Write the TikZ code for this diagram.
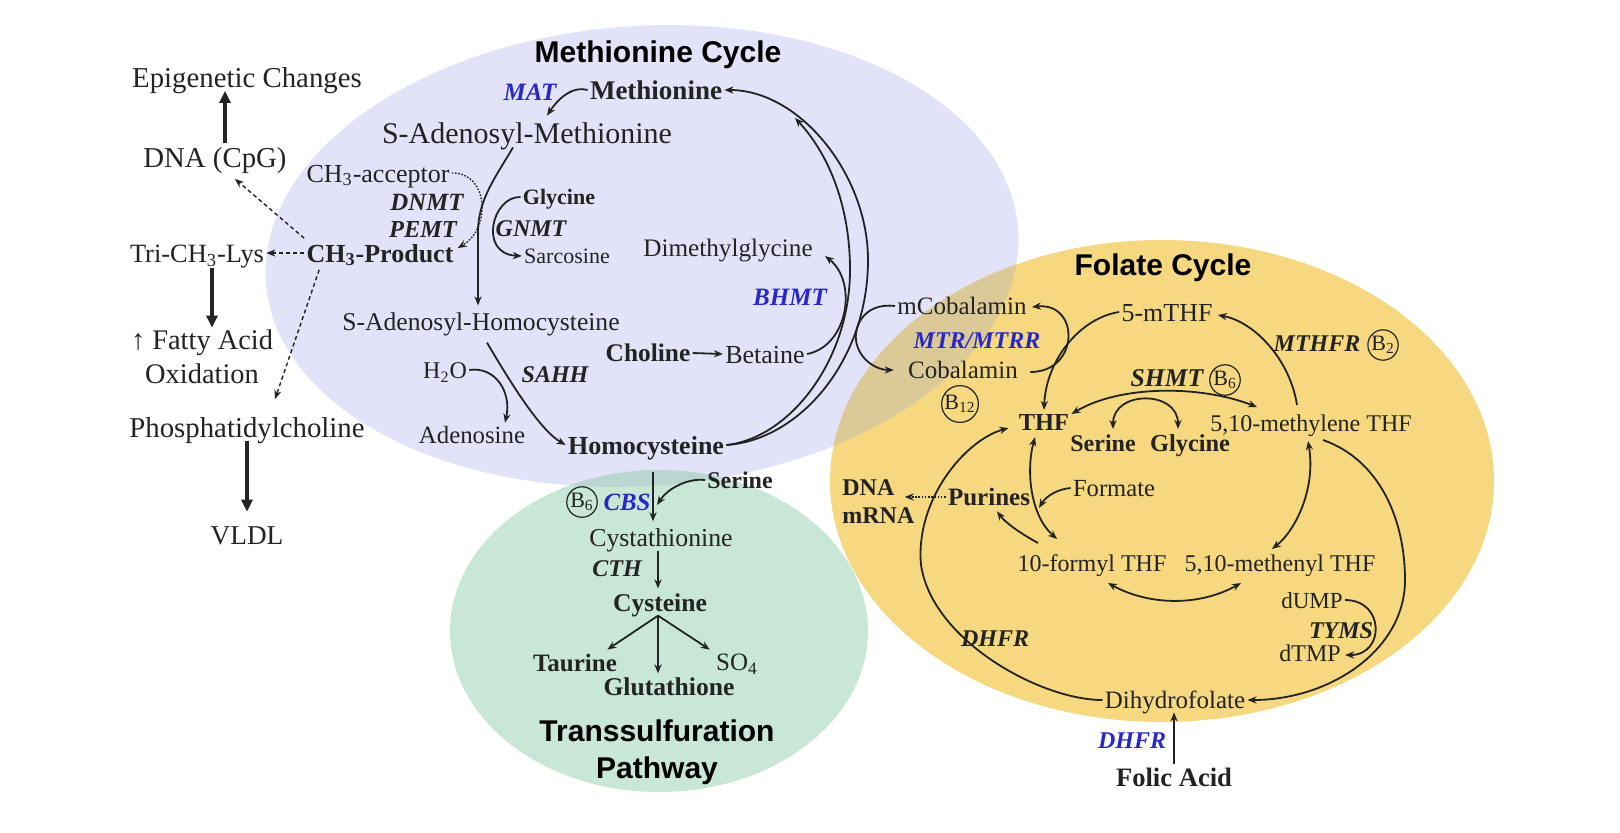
\documentclass[tikz,border=0pt]{standalone}
\usepackage{fontspec}
\setmainfont{Liberation Serif}
\newfontfamily\sansbold{Liberation Sans}
\usetikzlibrary{arrows.meta,calc}
\definecolor{purpbg}{RGB}{226,226,248}
\definecolor{yelbg}{RGB}{246,216,128}
\definecolor{grnbg}{RGB}{200,231,214}
\definecolor{ovYP}{RGB}{219,202,152}
\definecolor{ovGP}{RGB}{186,214,208}
\definecolor{enzblue}{RGB}{40,40,200}
\definecolor{ink}{RGB}{35,35,35}
\newcommand{\myfs}[1]{\fontsize{#1}{#1}\selectfont}
\tikzset{
  lbl/.style={text=ink, inner sep=1pt},
  txt/.style={lbl, font=\myfs{#1}, text height=0.75*#1pt, text depth=0.05*#1pt},
  btxt/.style={lbl, font=\myfs{#1}\bfseries, text height=0.75*#1pt, text depth=0.05*#1pt},
  enz/.style={lbl, font=\myfs{#1}\bfseries\itshape, text height=0.75*#1pt, text depth=0.05*#1pt},
  benz/.style={enz=#1, text=enzblue},
  ttl/.style={inner sep=1pt, text=black, font=\sansbold\fontsize{15}{18.5}\selectfont\bfseries, align=center},
  vit/.style={draw=ink, circle, line width=0.6pt, inner sep=0.2pt, text=ink, font=\myfs{11}},
  conn/.style={draw=ink, line width=0.9pt, ->},
  dconn/.style={draw=ink, line width=0.9pt, <->},
  thickarr/.style={draw=ink, line width=1.6pt, -{Triangle[length=6pt,width=5.5pt]}},
  dashconn/.style={conn, line width=0.7pt, dash pattern=on 2pt off 1.5pt},
  dotconn/.style={conn, line width=0.7pt, dash pattern=on 0.8pt off 0.8pt},
  >={Stealth[length=4.5pt,width=3.6pt]}
}
\begin{document}
\begin{tikzpicture}[x=0.5pt,y=-0.5pt]
\useasboundingbox (0,0) rectangle (1620,832);
\fill[white] (0,0) rectangle (1620,832);
% backgrounds
\fill[purpbg, rotate around={4:(642,256)}] (642,256) ellipse [x radius=188.5pt, y radius=115pt];
\fill[grnbg] (659,631) ellipse [x radius=104.5pt, y radius=80.5pt];
\fill[yelbg] (1162,481) ellipse [x radius=166pt, y radius=120.5pt];
\begin{scope}
  \clip[rotate around={4:(642,256)}] (642,256) ellipse [x radius=188.5pt, y radius=115pt];
  \fill[ovYP] (1162,481) ellipse [x radius=166pt, y radius=120.5pt];
  \fill[ovGP] (659,631) ellipse [x radius=104.5pt, y radius=80.5pt];
\end{scope}

% titles
\node[ttl] (tmet) at (658,55) {Methionine Cycle};
\node[ttl] (tfol) at (1163,268) {Folate Cycle};
\node[ttl] (ttrans) at (657,752) {Transsulfuration\\Pathway};

% left column
\node[txt=14.4] (epi) at (247,77) {Epigenetic Changes};
\node[txt=14.4] (dna) at (215,157) {DNA (CpG)};
\node[txt=13.2] (lys) at (197,253) {Tri-CH\textsubscript{3}-Lys};
\node[lbl, font=\fontsize{14.2}{17}\selectfont, align=center] (fatty) at (202,357) {↑ Fatty Acid\\Oxidation};
\node[txt=14.4] (pc) at (247,427) {Phosphatidylcholine};
\node[txt=13.6] (vldl) at (247,535) {VLDL};
\node[btxt=13] (ch3p) at (380,253) {CH\textsubscript{3}-Product};

% methionine cycle
\node[benz=12.5] (mat) at (530,92) {MAT};
\node[btxt=13.5] (met) at (656,90) {Methionine};
\node[txt=15] (sam) at (527,133) {S-Adenosyl-Methionine};
\node[txt=13] (acc) at (378,173) {CH\textsubscript{3}-acceptor};
\node[enz=12.4] (dnmt) at (427,202) {DNMT};
\node[enz=12.2] (pemt) at (423,229) {PEMT};
\node[btxt=11] (gly1) at (559,197) {Glycine};
\node[enz=12] (gnmt) at (531,228) {GNMT};
\node[txt=11] (sarc) at (567,256) {Sarcosine};
\node[txt=12.8] (sah) at (481,322) {S-Adenosyl-Homocysteine};
\node[txt=12.6] (dmg) at (728,248) {Dimethylglycine};
\node[benz=12.5] (bhmt) at (790,297) {BHMT};
\node[btxt=12.7] (chol) at (648,353) {Choline};
\node[txt=13] (bet) at (765,354) {Betaine};
\node[txt=12] (h2o) at (445,370) {H\textsubscript{2}O};
\node[enz=12] (sahh) at (555,374) {SAHH};
\node[txt=12.4] (ado) at (472,435) {Adenosine};
\node[btxt=13] (hcy) at (646,445) {Homocysteine};

% cobalamin
\node[txt=12.5] (mcob) at (962,306) {mCobalamin};
\node[benz=12] (mtr) at (977,340) {MTR/MTRR};
\node[txt=12.5] (cob) at (963,370) {Cobalamin};
\node[vit] (b12) at (960,404) {B\textsubscript{12}};

% folate cycle
\node[txt=13] (mthf) at (1167,312) {5-mTHF};
\node[btxt=12.2] (thf) at (1044,422) {THF};
\node[enz=12.8] (shmt) at (1167,378) {SHMT};
\node[vit] (b6a) at (1225,380) {B\textsubscript{6}};
\node[btxt=12] (ser2) at (1103,443) {Serine};
\node[btxt=12.2] (gly2) at (1190,443) {Glycine};
\node[txt=12] (mthy) at (1311,423) {5,10-methylene THF};
\node[enz=12] (mthfr) at (1317,343) {MTHFR};
\node[vit] (b2) at (1383,345) {B\textsubscript{2}};
\node[btxt=12, anchor=west] (dna2) at (840,487) {DNA};
\node[btxt=12, anchor=west] (mrna) at (840,515) {mRNA};
\node[btxt=12.5] (pur) at (989,497) {Purines};
\node[txt=12.3] (form) at (1114,488) {Formate};
\node[txt=12] (fthf) at (1092,563) {10-formyl THF};
\node[txt=12] (mnyl) at (1280,563) {5,10-methenyl THF};
\node[txt=11.5] (dump) at (1312,600) {dUMP};
\node[enz=12] (tyms) at (1341,630) {TYMS};
\node[txt=12] (dtmp) at (1310,653) {dTMP};
\node[enz=12] (dhfr1) at (995,638) {DHFR};
\node[txt=12.5] (dhf) at (1175,700) {Dihydrofolate};
\node[benz=12] (dhfr2) at (1132,740) {DHFR};
\node[btxt=13.3] (fol) at (1174,777) {Folic Acid};

% transsulfuration
\node[btxt=12] (ser1) at (740,480) {Serine};
\node[vit] (b6b) at (582,502) {B\textsubscript{6}};
\node[benz=12.4] (cbs) at (627,502) {CBS};
\node[txt=12.9] (cysta) at (661,537) {Cystathionine};
\node[enz=12] (cth) at (617,568) {CTH};
\node[btxt=12.8] (cys) at (660,603) {Cysteine};
\node[btxt=12.5] (tau) at (575,663) {Taurine};
\node[btxt=12.8] (glu) at (669,687) {Glutathione};
\node[txt=12.5] (so4) at (737,662) {SO\textsubscript{4}};

% ---------- connectors: left
\draw[thickarr] ($(dna.north)+(10,0)$) -- ($(epi.south)+(-22,0)$);
\draw[dashconn] (ch3p.west) -- (lys.east);
\draw[dashconn] ($(ch3p.north west)+(0,-2)$) -- ($(dna.south)+(20,8)$);
\draw[dashconn] ($(ch3p.south west)+(15,4)$) -- ($(pc.north)+(28,-14)$);
\draw[thickarr] ($(lys.south)+(15,2)$) -- ($(fatty.north)+(10,0)$);
\draw[thickarr] (pc.south) -- ($(vldl.north)+(0,-10)$);

% methionine cycle
\draw[conn] (met.west) .. controls (574,86) and (560,96) .. ($(sam.north)+(20,-3)$);
\draw[conn] ($(sam.south)+(-14,0)$) .. controls (495,178) and (478,200) .. (478,232) -- ($(sah.north)+(-3,-4)$);
\draw[dotconn] (acc.east) .. controls (488,172) and (492,228) .. ($(ch3p.east)+(2,-5)$);
\draw[conn] (gly1.west) .. controls (492,196) and (478,254) .. (sarc.west);
\draw[conn] ($(sah.south)+(6,8)$) .. controls (512,385) and (540,430) .. (hcy.west);
\draw[conn] (h2o.east) .. controls (495,366) and (512,392) .. ($(ado.north)+(33,0)$);
\draw[conn] (chol.east) -- (bet.west);
\draw[conn] (bet.east) .. controls (848,346) and (858,282) .. ($(dmg.east)+(10,8)$);
\draw[conn] (hcy.east) .. controls (800,440) and (868,360) .. (868,260) .. controls (868,175) and (800,90) .. (met.east);
\coordinate (bhmtend) at (795,118);
\draw[conn] (hcy.east) .. controls (790,438) and (850,360) .. (850,270) .. controls (850,200) and (825,150) .. (bhmtend);
\draw[conn] (mcob.west) .. controls (862,302) and (852,330) .. (857,345) .. controls (862,362) and (878,370) .. ($(cob.west)+(-12,0)$);
\draw[conn] ($(cob.east)+(10,2)$) .. controls (1080,372) and (1080,302) .. ($(mcob.east)+(3,1)$);

% folate cycle
\draw[conn] (mthf.west) .. controls (1080,318) and (1046,360) .. (thf.north);
\draw[dconn] ($(thf.east)+(0,-8)$) .. controls (1120,385) and (1200,385) .. ($(mthy.north)+(-54,-4)$);
\draw[dconn] ($(ser2.north)+(10,-2)$) .. controls (1113,390) and (1178,390) .. ($(gly2.north)+(-12,-2)$);
\draw[conn] ($(mthy.north)+(-14,-6)$) .. controls (1290,360) and (1255,322) .. ($(mthf.east)+(3,3)$);
\draw[dconn] ($(mthy.south)+(-3,6)$) .. controls (1316,488) and (1296,530) .. ($(mnyl.north)+(-8,-2)$);
\draw[conn] ($(mthy.south)+(12,5)$) .. controls (1380,460) and (1405,520) .. (1405,580) .. controls (1405,650) and (1330,700) .. (dhf.east);
\draw[conn] (dump.east) .. controls (1385,600) and (1385,655) .. ($(dtmp.east)+(2,2)$);
\draw[conn] (dhf.west) .. controls (1040,700) and (932,640) .. (921,565) .. controls (915,500) and (965,440) .. ($(thf.west)+(-8,6)$);
\draw[dconn] ($(thf.south)+(-9,3)$) .. controls (1026,470) and (1030,515) .. ($(fthf.north)+(-35,-12)$);
\coordinate (fmerge) at (1039,508);
\draw[conn] (form.west) .. controls (1058,489) and (1046,496) .. (fmerge);
\draw[conn] ($(fthf.north)+(-54,-8)$) .. controls (1018,532) and (1005,522) .. ($(pur.south)+(8,2)$);
\draw[dotconn] (pur.west) -- ($(pur.west -| dna2.east)+(8,0)$);
\draw[dconn] ($(fthf.south)+(16,8)$) .. controls (1150,606) and (1200,606) .. ($(mnyl.south)+(-39,8)$);
\draw[conn] (fol.north) -- (fol.north |- dhf.south);

% transsulfuration
\draw[conn] ($(hcy.south)+(7,14)$) -- ($(cysta.north)+(-8,-3)$);
\coordinate (sermerge) at (657,505);
\draw[conn] (ser1.west) .. controls (688,478) and (668,488) .. (sermerge);
\draw[conn] ($(cysta.south)+(-3,1)$) -- ($(cys.north)+(-2,-2)$);
\draw[conn] ($(cys.south)+(-2,0)$) -- ($(tau.north east)+(-12,-1)$);
\draw[conn] ($(cys.south)+(-2,0)$) -- ($(glu.north)+(-11,-1)$);
\draw[conn] ($(cys.south)+(-2,0)$) -- ($(so4.north west)+(-4,0)$);
\end{tikzpicture}
\end{document}
